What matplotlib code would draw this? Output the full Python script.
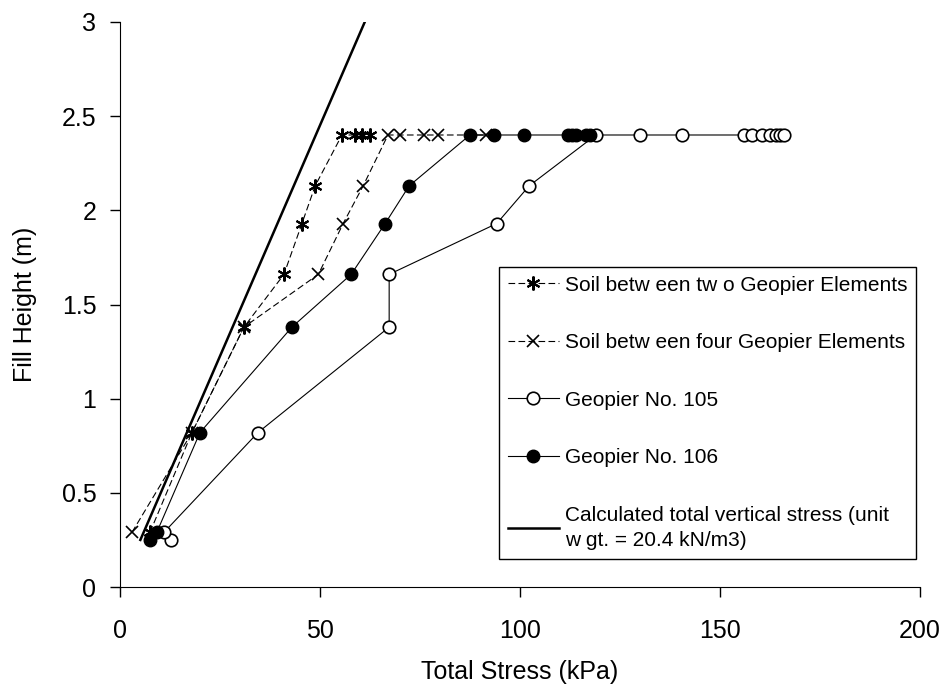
import matplotlib.pyplot as plt
import numpy as np

plt.rcParams['font.family'] = ['Liberation Sans', 'DejaVu Sans']

# Soil between two Geopier elements (asterisk)
two_stress = [7.5, 18, 31, 41, 45.5, 48.8, 55.5, 58.8, 60.5, 62.5]
two_height = [0.29, 0.82, 1.38, 1.66, 1.93, 2.13, 2.4, 2.4, 2.4, 2.4]

# Soil between four Geopier elements (x)
four_stress = [3, 18, 31, 49.6, 55.8, 60.8, 67, 70, 76, 79.5, 91.5]
four_height = [0.29, 0.82, 1.38, 1.66, 1.93, 2.13, 2.4, 2.4, 2.4, 2.4, 2.4]

# Geopier No. 105 (open circles)
g105_stress = [12.7, 11, 34.5, 67.3, 67.3, 94.2, 102.3, 119, 130, 140.5,
               156, 158, 160.5, 162.5, 164, 165, 166]
g105_height = [0.25, 0.29, 0.82, 1.38, 1.66, 1.93, 2.13, 2.4, 2.4, 2.4,
               2.4, 2.4, 2.4, 2.4, 2.4, 2.4, 2.4]

# Geopier No. 106 (filled circles)
g106_stress = [7.5, 9.2, 20, 43, 57.8, 66.3, 72.3, 87.5, 93.5, 101, 112,
               113, 114, 116.5, 117.5]
g106_height = [0.25, 0.29, 0.82, 1.38, 1.66, 1.93, 2.13, 2.4, 2.4, 2.4, 2.4,
               2.4, 2.4, 2.4, 2.4]

# Calculated total vertical stress, unit weight 20.4 kN/m3
calc_height = [0.25, 3.0]
calc_stress = [20.4 * h for h in calc_height]

fig = plt.figure(figsize=(9.46, 6.96), dpi=100)
ax = fig.add_axes([0.1268, 0.1566, 0.8457, 0.8118])

dash = (0, (6, 3))
ax.plot(two_stress, two_height, color='black', lw=0.8, linestyle=dash,
        marker=(6, 2, 0), ms=10, mew=1.5,
        label='Soil betw een tw o Geopier Elements')
ax.plot(four_stress, four_height, color='black', lw=0.8, linestyle=dash,
        marker='x', ms=8, mew=1.2,
        label='Soil betw een four Geopier Elements')
ax.plot(g105_stress, g105_height, color='black', lw=0.8, marker='o', ms=9,
        mfc='white', mec='black', mew=1.2, label='Geopier No. 105')
ax.plot(g106_stress, g106_height, color='black', lw=0.8, marker='o', ms=9,
        mfc='black', mec='black', label='Geopier No. 106')
ax.plot(calc_stress, calc_height, color='black', lw=1.8,
        label='Calculated total vertical stress (unit\nw gt. = 20.4 kN/m3)')

ax.set_xlim(0, 200)
ax.set_ylim(0, 3)
ax.set_xticks([0, 50, 100, 150, 200])
ax.set_yticks([0, 0.5, 1, 1.5, 2, 2.5, 3])
ax.set_yticklabels(['0', '0.5', '1', '1.5', '2', '2.5', '3'])
ax.spines['top'].set_visible(False)
ax.spines['right'].set_visible(False)
ax.tick_params(direction='out', length=7, width=1, labelsize=18)
ax.tick_params(axis='x', pad=16)
ax.tick_params(axis='y', pad=10)
ax.set_xlabel('Total Stress (kPa)', fontsize=18, labelpad=12)
ax.set_ylabel('Fill Height (m)', fontsize=18, labelpad=18)

leg = ax.legend(loc='upper left', bbox_to_anchor=(0.474, 0.566),
                borderaxespad=0, fontsize=15, labelspacing=1.85,
                handlelength=2.45, handletextpad=0.3, borderpad=0.4,
                fancybox=False, framealpha=1, edgecolor='black')
leg.get_frame().set_linewidth(1.0)
leg.get_texts()[4].set_linespacing(1.45)

fig.savefig('out.png', dpi=100)
